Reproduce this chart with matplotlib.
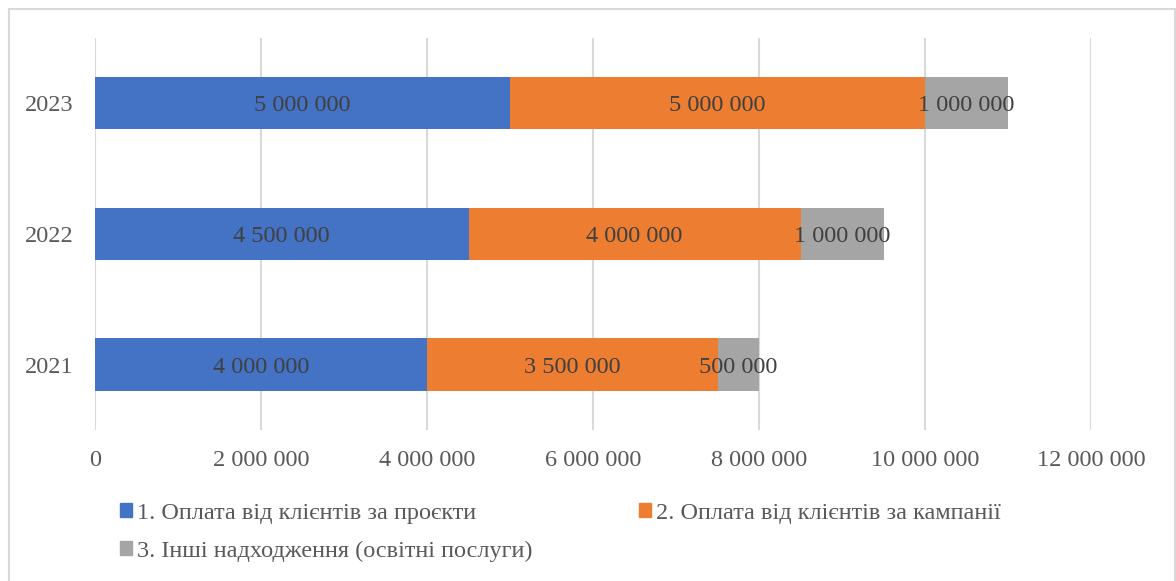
import matplotlib.pyplot as plt
from matplotlib.patches import Rectangle, Patch
from matplotlib.ticker import FuncFormatter

years = ["2021", "2022", "2023"]
projects = [4000000, 4500000, 5000000]
campaigns = [3500000, 4000000, 5000000]
other = [500000, 1000000, 1000000]
series_names = [
    "1. Оплата від клієнтів за проєкти",
    "2. Оплата від клієнтів за кампанії",
    "3. Інші надходження (освітні послуги)",
]
colors = ["#4472C4", "#ED7D31", "#A5A5A5"]
xticks = [0, 2000000, 4000000, 6000000, 8000000, 10000000, 12000000]

plt.rcParams['font.family'] = ['Liberation Serif', 'DejaVu Serif']

W, H = 1176, 581
fig = plt.figure(figsize=(W / 100, H / 100), dpi=100)
ax = fig.add_axes([95 / W, 1 - 430 / H, (1091 - 95) / W, (430 - 37.5) / H])

def fmt(v):
    return f"{int(v):,}".replace(",", " ")

y = range(len(years))
left = [0] * len(years)
for vals, col in zip([projects, campaigns, other], colors):
    bars = ax.barh(y, vals, left=left, height=0.4, color=col, zorder=3)
    anns = ax.bar_label(bars, labels=[fmt(v) for v in vals], label_type='center',
                        fontsize=17.5, color="#404040", zorder=4)
    # nudge the numbers down so the digits sit on the bar's middle
    for a in anns:
        a.xyann = (0, -2)
    left = [a + b for a, b in zip(left, vals)]

ax.set_xlim(0, 12000000)
ax.set_ylim(-0.5, 2.5)
ax.set_xticks(xticks)
ax.xaxis.set_major_formatter(FuncFormatter(lambda v, p: fmt(v)))
ax.set_yticks(list(y))
ax.set_yticklabels(years)
ax.grid(axis='x', color="#D9D9D9", linewidth=1.5, zorder=0)
for s in ax.spines.values():
    s.set_visible(False)
ax.tick_params(length=0, labelsize=17.5, labelcolor="#595959")
ax.tick_params(axis='x', pad=14.5)
ax.tick_params(axis='y', pad=15.5)

handles = [Patch(color=c) for c in colors]
order = [0, 2, 1]
fig.legend([handles[i] for i in order], [series_names[i] for i in order],
           ncol=2, loc='upper left', bbox_to_anchor=(98 / W, 1 - 481 / H),
           frameon=False, fontsize=17.5, labelcolor="#595959",
           handlelength=0.5, handleheight=0.5, handletextpad=0.2,
           columnspacing=4.4, labelspacing=0.68)

fig.patches.append(Rectangle((8.5 / W, -0.02), (1174.5 - 8.5) / W, 1.02 - 8.5 / H,
                             transform=fig.transFigure, fill=False,
                             edgecolor="#D9D9D9", linewidth=1.5))

fig.savefig("out.png", dpi=100)
